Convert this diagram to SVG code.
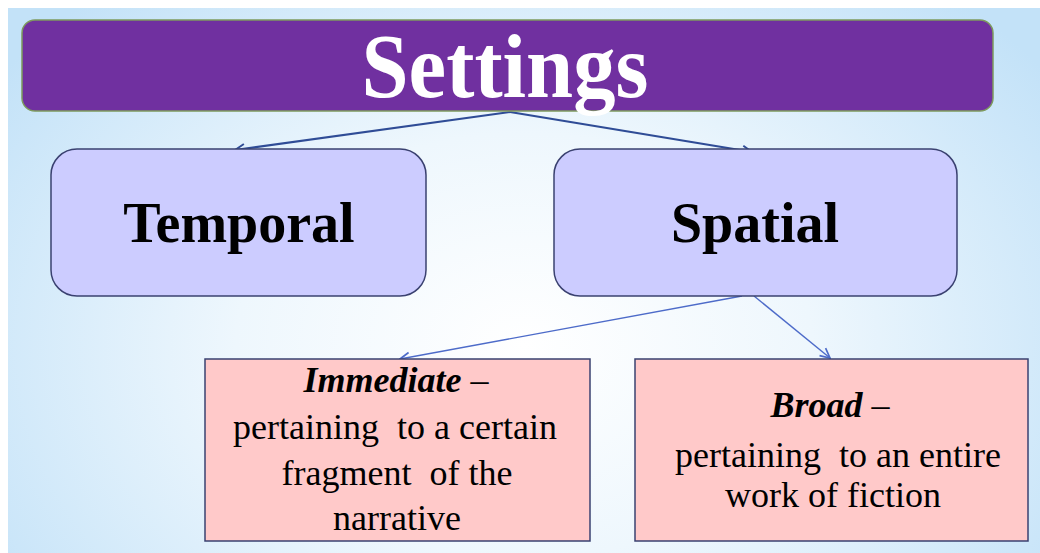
<svg xmlns="http://www.w3.org/2000/svg" width="1040" height="553" viewBox="0 0 1040 553">
<defs>
<radialGradient id="bg" cx="0.5" cy="0.62" r="0.62" gradientTransform="translate(0.5 0.62) scale(1 1.4) translate(-0.5 -0.62)">
<stop offset="0" stop-color="#FFFFFF"/>
<stop offset="0.45" stop-color="#EEF7FD"/>
<stop offset="1" stop-color="#C3E2F8"/>
</radialGradient>
<marker id="ah1" viewBox="0 0 10 10" refX="9" refY="5" markerWidth="12" markerHeight="12" orient="auto" markerUnits="userSpaceOnUse">
<path d="M1,1 L9,5 L1,9" fill="none" stroke="#2F4C96" stroke-width="1.6"/>
</marker>
<marker id="ah2" viewBox="0 0 10 10" refX="9" refY="5" markerWidth="12" markerHeight="12" orient="auto" markerUnits="userSpaceOnUse">
<path d="M1,1 L9,5 L1,9" fill="none" stroke="#4D6BC9" stroke-width="1.4"/>
</marker>
</defs>
<style>
.mid{fill:#CCCCFF;stroke:#3A4170;stroke-width:1.5;}
.low{fill:#FFC9C9;stroke:#3A4170;stroke-width:1.5;}
.lbl{font-weight:bold;font-size:56px;fill:#000;text-anchor:middle;}
.txt{font-size:36px;fill:#000;text-anchor:middle;}
.hd{font-weight:bold;font-style:italic;}
</style>
<rect x="0" y="0" width="1040" height="553" fill="#FFFFFF"/>
<rect x="8" y="8" width="1032" height="545" fill="url(#bg)"/>
<g id="connectors">
<line x1="510" y1="112" x2="235" y2="150" stroke="#2F4C96" stroke-width="2.2" marker-end="url(#ah1)"/>
<line x1="510" y1="112" x2="752" y2="152" stroke="#2F4C96" stroke-width="2.2" marker-end="url(#ah1)"/>
<line x1="742" y1="296" x2="400" y2="359" stroke="#4D6BC9" stroke-width="1.4" marker-end="url(#ah2)"/>
<line x1="754" y1="296" x2="830" y2="358" stroke="#4D6BC9" stroke-width="1.4" marker-end="url(#ah2)"/>
</g>
<g font-family="'Liberation Serif', 'Times New Roman', serif">
<g id="settings">
<rect x="22" y="20" width="971" height="91" rx="13" fill="#7030A0" stroke="#7E9A5E" stroke-width="1.5"/>
<text x="505" y="97" font-family="'Liberation Serif', serif" font-size="90" font-weight="bold" fill="#FFFFFF" text-anchor="middle" textLength="287" lengthAdjust="spacingAndGlyphs">Settings</text>
</g>
<g id="temporal">
<rect class="mid" x="51" y="149" width="375" height="147" rx="26"/>
<text class="lbl" font-family="'Liberation Serif', serif" x="239" y="242">Temporal</text>
</g>
<g id="spatial">
<rect class="mid" x="554" y="149" width="403" height="147" rx="26"/>
<text class="lbl" font-family="'Liberation Serif', serif" x="755" y="242">Spatial</text>
</g>
<g id="immediate">
<rect class="low" x="205" y="359" width="385" height="182"/>
<text class="txt" font-family="'Liberation Serif', serif" x="396" y="392"><tspan class="hd">Immediate</tspan> –</text>
<text class="txt" font-family="'Liberation Serif', serif" x="395" y="439" xml:space="preserve">pertaining  to a certain</text>
<text class="txt" font-family="'Liberation Serif', serif" x="397" y="485" xml:space="preserve">fragment  of the</text>
<text class="txt" font-family="'Liberation Serif', serif" x="397" y="530">narrative</text>
</g>
<g id="broad">
<rect class="low" x="635" y="359" width="393" height="182"/>
<text class="txt" font-family="'Liberation Serif', serif" x="830" y="417"><tspan class="hd">Broad</tspan> –</text>
<text class="txt" font-family="'Liberation Serif', serif" x="838" y="467" xml:space="preserve">pertaining  to an entire</text>
<text class="txt" font-family="'Liberation Serif', serif" x="833" y="507">work of fiction</text>
</g>
</g>
</svg>
